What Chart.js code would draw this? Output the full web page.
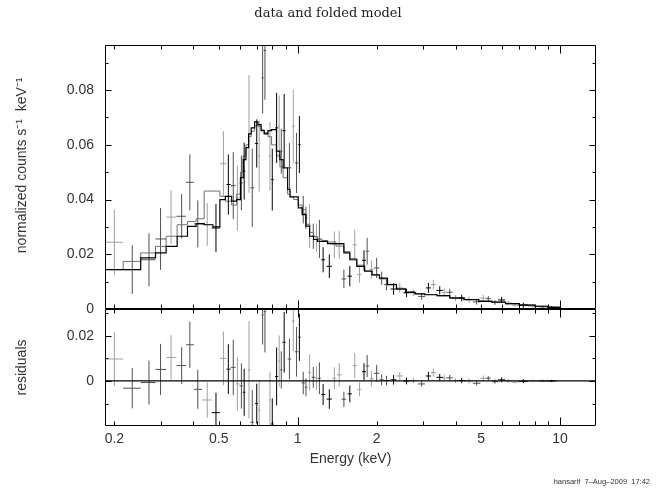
<!DOCTYPE html>
<html><head><meta charset="utf-8">
<script src="https://cdn.jsdelivr.net/npm/chart.js@4.4.0/dist/chart.umd.min.js"></script>
<style>
html,body{margin:0;padding:0;background:#fff;}
#wrap{position:relative;width:656px;height:490px;overflow:hidden;background:#fff;}
#top{position:absolute;left:0;top:0;width:656px;height:330px;z-index:2;}
#bot{position:absolute;left:0;top:300px;width:656px;height:190px;z-index:1;}
</style></head>
<body><div id="wrap"><canvas id="bot" width="656" height="190"></canvas><canvas id="top" width="656" height="330"></canvas></div>
<script>
// ---------- data ----------
const energy = [0.200,0.234,0.271,0.300,0.329,0.361,0.388,0.416,0.452,0.488,
0.521,0.544,0.568,0.589,0.610,0.625,0.652,0.671,0.698,0.713,
0.735,0.750,0.784,0.800,0.831,0.850,0.866,0.888,0.930,0.962,
0.990,1.015,1.05,1.075,1.11,1.147,1.18,1.21,1.25,1.32,
1.38,1.44,1.50,1.58,1.65,1.72,1.79,1.84,1.91,2.00,
2.09,2.18,2.32,2.45,2.60,2.76,2.97,3.15,3.29,3.48,
3.62,3.80,4.00,4.22,4.50,4.81,5.10,5.33,5.65,5.99,
6.35,6.74,7.25,7.90,8.60,9.30];
const eLow = [0.184,0.216,0.252,0.287,0.315,0.345,0.375,0.402,0.432,0.470,
0.505,0.535,0.556,0.580,0.600,0.618,0.645,0.660,0.688,0.706,
0.728,0.742,0.776,0.792,0.820,0.842,0.858,0.875,0.915,0.950,
0.975,1.005,1.035,1.065,1.095,1.130,1.165,1.195,1.230,1.290,
1.355,1.410,1.470,1.550,1.620,1.690,1.760,1.820,1.880,1.950,
2.050,2.130,2.260,2.380,2.530,2.680,2.880,3.080,3.220,3.380,
3.550,3.700,3.900,4.120,4.350,4.650,4.970,5.220,5.500,5.800,
6.180,6.550,6.950,7.550,8.250,8.950];
const eHigh = [0.216,0.252,0.287,0.315,0.345,0.375,0.402,0.432,0.470,0.505,
0.535,0.555,0.580,0.600,0.618,0.632,0.660,0.682,0.706,0.720,
0.742,0.758,0.792,0.810,0.842,0.858,0.875,0.900,0.945,0.975,
1.005,1.025,1.065,1.090,1.125,1.165,1.195,1.225,1.270,1.350,
1.405,1.470,1.530,1.610,1.680,1.750,1.820,1.870,1.950,2.050,
2.130,2.240,2.380,2.520,2.670,2.840,3.060,3.220,3.370,3.580,
3.700,3.900,4.120,4.350,4.650,4.970,5.220,5.450,5.800,6.180,
6.550,6.950,7.550,8.250,8.950,9.700];
const flux = [0.0244,0.0144,0.0180,0.0256,0.0336,0.0339,0.0463,0.0311,0.0309,0.0296,
0.0531,0.0455,0.0451,0.0406,0.0461,0.0504,0.0640,0.0443,0.0605,0.0559,
0.0845,0.0945,0.0559,0.0473,0.0662,0.0668,0.0577,0.0652,0.0516,0.0668,
0.0534,0.0601,0.0363,0.0333,0.0303,0.0266,0.0260,0.0256,0.0180,0.0156,
0.0235,0.0235,0.0110,0.0120,0.0235,0.0126,0.0178,0.0211,0.0144,0.0150,
0.0113,0.0089,0.0073,0.0077,0.0059,0.0059,0.0046,0.0077,0.0089,0.0068,
0.0061,0.0061,0.0040,0.0040,0.0034,0.0026,0.0040,0.0038,0.0024,0.0033,
0.0022,0.0014,0.0014,0.0010,0.0008,0.0006];
const fluxErr = [0.0119,0.0089,0.0097,0.0113,0.0098,0.0081,0.0102,0.0086,0.0078,0.0088,
0.0119,0.0110,0.0122,0.0119,0.0100,0.0104,0.0215,0.0143,0.0088,0.0130,
0.0130,0.0180,0.0125,0.0113,0.0128,0.0113,0.0082,0.0134,0.0090,0.0134,
0.0110,0.0104,0.0050,0.0040,0.0080,0.0046,0.0052,0.0070,0.0046,0.0043,
0.0049,0.0052,0.0034,0.0037,0.0055,0.0030,0.0037,0.0049,0.0034,0.0037,
0.0024,0.0021,0.0021,0.0018,0.0015,0.0012,0.0012,0.0018,0.0018,0.0015,
0.0015,0.0013,0.0012,0.0012,0.0012,0.0010,0.0012,0.0010,0.0009,0.0011,
0.0009,0.0006,0.0009,0.0006,0.0005,0.0005];
const resid = [0.0097,-0.0032,-0.0007,0.0051,0.0104,0.0068,0.0160,-0.0037,-0.0084,-0.0140,
0.0100,0.0052,0.0060,-0.0013,-0.0022,-0.0050,0.0049,-0.0182,-0.0100,-0.0128,
0.0291,0.0306,-0.0084,-0.0190,0.0020,0.0088,0.0049,0.0171,0.0097,0.0265,
0.0129,0.0193,-0.0009,-0.0028,0.0037,0.0016,0.0012,0.0012,-0.0060,-0.0080,
0.0012,0.0027,-0.0081,-0.0057,0.0068,-0.0037,0.0041,0.0066,0.0010,0.0034,
0.0005,0.0002,0.0005,0.0022,0.0000,0.0002,-0.0013,0.0022,0.0037,0.0016,
0.0013,0.0014,0.0002,0.0002,0.0000,-0.0010,0.0012,0.0012,-0.0003,0.0005,
-0.0001,-0.0005,-0.0001,0.0000,0.0000,0.0000];
const group = ['g','r','r','r','g','r','r','r','g','k',
'g','k','r','g','r','k','g','r','k','g',
'r','r','g','k','k','g','r','k','r','g',
'r','k','r','r','g','r','g','r','k','k',
'g','g','r','k','g','g','k','r','g','r',
'r','r','k','g','k','g','r','k','g','k',
'g','r','g','k','g','r','g','r','r','k',
'g','g','k','g','r','k'];
const modelEdges = [0.184,0.216,0.252,0.287,0.315,0.347,0.380,0.410,0.440,0.475,
0.505,0.530,0.560,0.585,0.605,0.620,0.635,0.650,0.665,0.685,
0.705,0.725,0.745,0.770,0.795,0.830,0.855,0.880,0.915,0.935,
0.965,1.005,1.04,1.075,1.11,1.15,1.19,1.24,1.30,1.40,
1.50,1.58,1.68,1.80,1.92,2.05,2.20,2.38,2.58,2.80,
3.05,3.40,3.80,4.30,4.90,5.50,6.20,7.00,8.00,9.00,10.0];
const modelBlack = [0.0144,0.0144,0.0187,0.0205,0.0229,0.0266,0.0302,0.0312,0.0308,0.0300,
0.0400,0.0412,0.0394,0.0400,0.0480,0.0546,0.0590,0.0640,0.0662,0.0684,
0.0674,0.0652,0.0640,0.0652,0.0656,0.0577,0.0546,0.0516,0.0437,0.0410,
0.0410,0.0370,0.0345,0.0303,0.0266,0.0254,0.0247,0.0247,0.0239,0.0239,
0.0205,0.0180,0.0156,0.0138,0.0125,0.0113,0.0089,0.0073,0.0061,0.0055,
0.0052,0.0049,0.0040,0.0034,0.0028,0.0025,0.0020,0.0014,0.0010,0.0006];
const modelGray = [0.0144,0.0174,0.0205,0.0229,0.0266,0.0308,0.0320,0.0330,0.0431,0.0431,
0.0412,0.0394,0.0380,0.0420,0.0500,0.0560,0.0600,0.0630,0.0650,0.0670,
0.0668,0.0655,0.0645,0.0630,0.0600,0.0560,0.0520,0.0480,0.0420,0.0410,
0.0400,0.0380,0.0350,0.0310,0.0280,0.0265,0.0255,0.0250,0.0245,0.0230,
0.0210,0.0185,0.0160,0.0140,0.0125,0.0110,0.0090,0.0075,0.0063,0.0056,
0.0053,0.0048,0.0042,0.0035,0.0030,0.0025,0.0019,0.0015,0.0010,0.0007];
const xTickLabels = [0.2, 0.5, 1, 2, 5, 10];
const xMinorTicks = [0.2,0.3,0.4,0.5,0.6,0.7,0.8,0.9,2,3,4,5,6,7,8,9];
const xMajorTicks = [1, 10];
const yTicksTop = [0, 0.02, 0.04, 0.06, 0.08];
const yMinorTop = [0.01, 0.03, 0.05, 0.07, 0.09];
const yTicksRes = [0, 0.02];
const yMinorRes = [-0.01, 0.01, 0.03];
const xMin = 0.1842, xMax = 13.72;
const yTopMin = 0, yTopMax = 0.0965;
const yResMin = -0.0199, yResMax = 0.0318;
const titleText = 'data and folded model';
const yTitleTop = '      normalized counts s\u207B\u00B9  keV\u207B\u00B9';
const yTitleRes = 'residuals';
const xTitle = 'Energy (keV)';
const footerText = 'hansarif  7\u2013Aug\u20132009  17:42';

// ---------- styling / building ----------
const groupColor = {k:'#000000', r:'#505050', g:'#a0a0a0'};
const groupOrder = {k:1, r:3, g:4};
const TXT = '#333333';
Chart.defaults.font.family = '"Liberation Sans", Arial, sans-serif';

function crossPoints(vals, g) {
  const pts = [];
  energy.forEach((e, i) => {
    if (group[i] !== g) return;
    pts.push({x: eLow[i], y: vals[i]}, {x: eHigh[i], y: vals[i]}, {x: e, y: null},
             {x: e, y: vals[i] - fluxErr[i]}, {x: e, y: vals[i] + fluxErr[i]}, {x: e, y: null});
  });
  return pts;
}
function stepPoints(vals) {
  const pts = vals.map((v, i) => ({x: modelEdges[i], y: v}));
  pts.push({x: modelEdges[modelEdges.length - 1], y: vals[vals.length - 1]});
  return pts;
}
function crossSets(vals) {
  return ['k', 'r', 'g'].map(g => ({
    data: crossPoints(vals, g), borderColor: groupColor[g], borderWidth: 1,
    pointRadius: 0, spanGaps: false, fill: false, tension: 0, order: groupOrder[g]
  }));
}
function noPad(s) { s.paddingLeft = 0; s.paddingRight = 0; s.paddingTop = 0; s.paddingBottom = 0; }

const framePlugin = {
  id: 'frame',
  afterDraw(chart, args, opts) {
    const {ctx, chartArea: a, scales} = chart;
    const xs = scales.x, ys = scales.y;
    const L = Math.round(a.left) + 0.5, R = Math.round(a.right) - 0.5;
    const T = Math.round(a.top) + 0.5, B = Math.round(a.bottom) - 0.5;
    ctx.save();
    ctx.strokeStyle = '#000'; ctx.lineWidth = 1;
    ctx.beginPath();
    ctx.rect(L, T, R - L, B - T);
    const xt = (list, len) => list.forEach(v => {
      const p = Math.round(xs.getPixelForValue(v)) + 0.5;
      ctx.moveTo(p, B); ctx.lineTo(p, B - len);
      ctx.moveTo(p, T); ctx.lineTo(p, T + len);
    });
    const yt = (list, len) => list.forEach(v => {
      const p = Math.round(ys.getPixelForValue(v)) + 0.5;
      ctx.moveTo(L, p); ctx.lineTo(L + len, p);
      ctx.moveTo(R, p); ctx.lineTo(R - len, p);
    });
    xt(xMinorTicks, 4); xt(xMajorTicks, 8);
    yt(opts.yMinor || [], 3); yt(opts.yMajor || [], 6);
    ctx.stroke();
    if (opts.footer) {
      ctx.font = '7.5px "Liberation Sans", Arial, sans-serif';
      ctx.fillStyle = TXT; ctx.textAlign = 'right'; ctx.textBaseline = 'middle';
      ctx.fillText(opts.footer, 650, 182);
    }
    ctx.restore();
  }
};

const axisFont = {size: 14, family: '"Liberation Sans", Arial, sans-serif'};
const spacerAxis = {position: 'right', display: true,
  afterFit: s => { s.width = 60; noPad(s); },
  ticks: {display: false}, grid: {display: false, drawTicks: false}, border: {display: false}};

new Chart(document.getElementById('top'), {
  type: 'line',
  data: {datasets: [
    {data: stepPoints(modelBlack), borderColor: '#000', borderWidth: 1.2, pointRadius: 0, stepped: true, fill: false, order: 0},
    {data: stepPoints(modelGray), borderColor: '#707070', borderWidth: 1, pointRadius: 0, stepped: true, fill: false, order: 2},
    ...crossSets(flux)
  ]},
  options: {
    responsive: false, animation: false, devicePixelRatio: 1,
    layout: {padding: {left: 0, right: 0, top: 0, bottom: 21}},
    plugins: {
      legend: {display: false}, tooltip: {enabled: false},
      title: {display: true, text: titleText, color: '#222',
        font: {family: '"DejaVu Serif", "Liberation Serif", serif', size: 13, weight: 'normal', lineHeight: 1.2},
        padding: {top: 6, bottom: 23.4}},
      frame: {yMajor: yTicksTop, yMinor: yMinorTop}
    },
    scales: {
      x: {type: 'logarithmic', display: false, min: xMin, max: xMax, bounds: 'data'},
      y: {type: 'linear', min: yTopMin, max: yTopMax, bounds: 'data',
        afterBuildTicks: s => { s.ticks = yTicksTop.map(v => ({value: v})); },
        afterFit: s => { s.width = 105; noPad(s); },
        grid: {display: false, drawTicks: false}, border: {display: false},
        ticks: {padding: 11, color: TXT, font: axisFont, autoSkip: false,
          callback: v => v === 0 ? '0' : v.toFixed(2)},
        title: {display: true, text: yTitleTop, color: TXT, font: axisFont, padding: {top: 14, bottom: 0}}
      },
      ySpacer: spacerAxis
    }
  },
  plugins: [framePlugin]
});

new Chart(document.getElementById('bot'), {
  type: 'line',
  data: {datasets: [
    {data: [{x: xMin, y: 0}, {x: xMax, y: 0}], borderColor: '#000', borderWidth: 1.2, pointRadius: 0, fill: false, order: 0},
    ...crossSets(resid)
  ]},
  options: {
    responsive: false, animation: false, devicePixelRatio: 1,
    layout: {padding: {left: 0, right: 0, top: 9, bottom: 22}},
    plugins: {
      legend: {display: false}, tooltip: {enabled: false},
      frame: {yMajor: yTicksRes, yMinor: yMinorRes, footer: footerText}
    },
    scales: {
      x: {type: 'logarithmic', min: xMin, max: xMax, bounds: 'data',
        afterBuildTicks: s => { s.ticks = xTickLabels.map(v => ({value: v})); },
        afterFit: s => { s.height = 42; noPad(s); },
        grid: {display: false, drawTicks: false}, border: {display: false},
        ticks: {padding: 5, color: TXT, font: axisFont, autoSkip: false, maxRotation: 0,
          callback: v => String(v)},
        title: {display: true, text: xTitle, color: TXT, font: axisFont, padding: {top: 0, bottom: 0}}
      },
      y: {type: 'linear', min: yResMin, max: yResMax, bounds: 'data',
        afterBuildTicks: s => { s.ticks = yTicksRes.map(v => ({value: v})); },
        afterFit: s => { s.width = 105; noPad(s); },
        grid: {display: false, drawTicks: false}, border: {display: false},
        ticks: {padding: 11, color: TXT, font: axisFont, autoSkip: false,
          callback: v => v === 0 ? '0' : v.toFixed(2)},
        title: {display: true, text: yTitleRes, color: TXT, font: axisFont, padding: {top: 14, bottom: 0}}
      },
      ySpacer: spacerAxis
    }
  },
  plugins: [framePlugin]
});
</script>
</body></html>
